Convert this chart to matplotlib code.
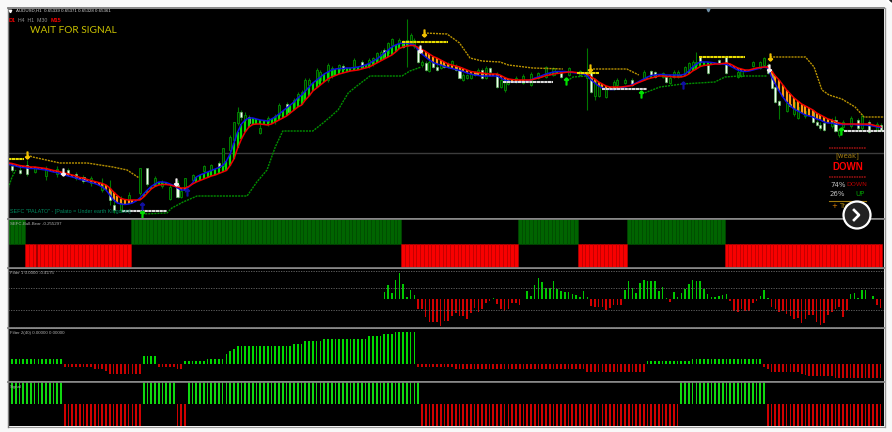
import numpy as np
import matplotlib
matplotlib.use('Agg')
import matplotlib.pyplot as plt
from matplotlib.patches import Circle

W, H = 892, 432
LEFT, RIGHT = 8, 884
BAR0, BAR_STEP = 8.3, 3.76

# Candles, prices are read as pixel rows of the main window
candle_bars = [1, 3, 5, 7, 10, 13, 16, 18, 20, 22,
               25, 27, 28, 30, 32, 35, 37, 39, 41, 43,
               45, 46, 47, 49, 52, 54, 56, 57, 59, 60,
               61, 62, 63, 64, 67, 69, 71, 72, 74, 76,
               77, 78, 79, 80, 82, 83, 85, 86, 88, 89,
               92, 94, 96, 97, 98, 99, 100, 101, 102, 104,
               105, 106, 107, 108, 109, 110, 111, 112, 113, 114,
               115, 116, 117, 118, 119, 120, 121, 122, 123, 124,
               125, 126, 127, 128, 130, 131, 132, 133, 135, 137,
               139, 141, 143, 145, 147, 149, 152, 154, 155, 156,
               157, 159, 161, 162, 164, 166, 169, 171, 172, 174,
               175, 176, 177, 178, 180, 181, 182, 183, 184, 186,
               189, 191, 194, 195, 198, 200, 201, 202, 203, 204,
               205, 207, 208, 209, 210, 212, 214, 215, 216, 217,
               219, 220, 221, 222, 224, 226, 227, 229, 231, 232]
candle_high = [163, 165, 160, 166, 166, 166, 168, 172, 175, 176,
               178, 180, 200, 196, 192, 168, 168, 176, 180, 185,
               180, 188, 178, 174, 165, 164, 161, 148, 135, 122,
               107, 110, 112, 115, 124, 116, 114, 103, 102, 98,
               92, 90, 78, 78, 68, 70, 63, 66, 64, 64,
               58, 60, 58, 57, 52, 50, 48, 42, 38, 38,
               40, 19, 33, 38, 46, 60, 61, 60, 62, 64,
               62, 63, 62, 60, 64, 68, 73, 74, 72, 71,
               68, 68, 66, 67, 72, 78, 78, 78, 76, 74,
               72, 72, 66, 67, 71, 67, 70, 48, 70, 78,
               84, 86, 80, 78, 78, 78, 70, 70, 71, 72,
               76, 76, 70, 70, 66, 62, 60, 52, 56, 64,
               59, 56, 70, 70, 61, 61, 57, 63, 72, 86,
               100, 102, 103, 100, 105, 110, 110, 120, 122, 120,
               118, 116, 128, 120, 116, 118, 114, 120, 122, 123]
candle_low = [172, 174, 176, 173, 180, 177, 176, 180, 183, 186,
              192, 205, 213, 212, 202, 195, 186, 186, 188, 200,
              198, 198, 192, 182, 174, 172, 170, 168, 152, 142,
              125, 120, 124, 127, 134, 126, 124, 117, 114, 110,
              102, 102, 92, 88, 85, 82, 82, 78, 72, 70,
              70, 68, 68, 66, 62, 60, 58, 54, 46, 44,
              48, 67, 45, 48, 63, 67, 71, 72, 68, 71,
              69, 68, 68, 66, 71, 79, 81, 79, 79, 76,
              75, 79, 79, 73, 88, 88, 92, 85, 83, 84,
              86, 79, 78, 76, 78, 76, 76, 110, 93, 100,
              97, 98, 90, 87, 84, 86, 80, 76, 78, 78,
              83, 84, 78, 78, 74, 71, 69, 66, 63, 74,
              64, 74, 78, 77, 67, 69, 66, 74, 89, 103,
              119, 112, 107, 116, 119, 118, 123, 126, 130, 131,
              128, 132, 137, 128, 128, 130, 130, 133, 131, 131]
candle_top = [166, 170, 165, 168, 168, 169, 170, 174, 177, 178,
              184, 191, 205, 203, 195, 168, 168, 178, 182, 187,
              185, 191, 178, 175, 166, 165, 163, 148, 137, 122,
              112, 112, 115, 117, 128, 118, 116, 105, 104, 100,
              94, 92, 80, 80, 70, 72, 65, 68, 65, 66,
              60, 62, 60, 58, 53, 52, 50, 43, 39, 40,
              42, 40, 35, 40, 47, 62, 63, 62, 63, 67,
              64, 65, 64, 61, 66, 70, 75, 75, 74, 72,
              70, 70, 68, 68, 75, 80, 80, 80, 78, 76,
              74, 73, 67, 68, 73, 68, 71, 72, 72, 80,
              85, 88, 82, 80, 80, 80, 72, 71, 72, 73,
              77, 78, 72, 72, 67, 63, 62, 62, 57, 65,
              60, 57, 72, 71, 62, 62, 58, 65, 73, 87,
              101, 103, 104, 102, 107, 111, 112, 122, 125, 123,
              120, 120, 130, 122, 118, 120, 116, 122, 124, 125]
candle_bottom = [170, 173, 174, 172, 176, 174, 174, 178, 181, 183,
                 190, 200, 210, 210, 200, 193, 184, 185, 186, 199,
                 197, 197, 190, 180, 171, 170, 167, 166, 150, 140,
                 123, 117, 120, 123, 133, 122, 120, 115, 112, 108,
                 100, 100, 90, 85, 83, 80, 80, 76, 70, 69,
                 68, 67, 66, 64, 60, 58, 57, 53, 45, 43,
                 47, 46, 43, 46, 62, 65, 70, 71, 67, 70,
                 68, 67, 67, 65, 70, 78, 80, 78, 78, 75,
                 73, 78, 78, 72, 87, 87, 90, 84, 82, 83,
                 85, 78, 77, 75, 77, 75, 75, 78, 92, 96,
                 96, 97, 88, 85, 83, 85, 78, 75, 77, 77,
                 82, 83, 77, 77, 73, 70, 68, 65, 62, 73,
                 63, 73, 77, 76, 66, 68, 65, 73, 88, 102,
                 105, 111, 106, 114, 118, 116, 122, 125, 128, 130,
                 126, 131, 135, 127, 126, 128, 128, 132, 130, 130]
candle_white = [1, 1, 1, 0, 0, 0, 1, 1, 1, 0,
                0, 1, 1, 0, 0, 0, 1, 0, 0, 0,
                1, 0, 0, 0, 0, 0, 1, 0, 0, 0,
                0, 1, 0, 1, 0, 0, 0, 0, 1, 0,
                0, 0, 0, 0, 0, 0, 0, 0, 0, 1,
                0, 1, 0, 0, 0, 0, 1, 0, 0, 0,
                1, 0, 0, 0, 1, 0, 1, 0, 1, 1,
                0, 1, 0, 0, 1, 1, 0, 0, 0, 1,
                0, 1, 0, 1, 1, 0, 0, 0, 0, 0,
                0, 0, 0, 0, 1, 0, 0, 0, 1, 0,
                0, 0, 0, 0, 0, 1, 0, 1, 1, 0,
                1, 0, 0, 0, 0, 0, 0, 0, 1, 1,
                1, 1, 0, 0, 0, 0, 0, 1, 1, 1,
                1, 0, 1, 0, 0, 0, 1, 1, 1, 1,
                0, 1, 0, 0, 0, 1, 0, 1, 0, 1]

# Moving average ribbon, one value per bar
ma_red = [163, 163.5, 164.5, 165.5, 166, 166.5, 167, 167, 167.5, 168,
          168.5, 169.5, 170.5, 171, 172, 173, 174, 175, 176, 177.5,
          178, 179.5, 180.5, 181.5, 182.5, 183.5, 185, 188, 192, 195.5,
          198.5, 199.5, 200, 200, 200, 200, 197, 193, 189, 186.5,
          185, 184.5, 184.5, 185, 186, 187, 188, 188, 186.5, 184,
          182, 180.5, 179, 177.5, 176, 175, 173.5, 172, 170.5, 165.5,
          159, 148, 139, 132, 127, 124.5, 124, 124, 124.5, 125,
          124, 122, 120, 118, 116, 113, 110, 107, 105, 100,
          96, 91, 88, 85, 82, 79, 77, 75.5, 74, 73,
          72, 71, 70.5, 70, 69, 68, 67, 65, 63, 61,
          59, 57, 55, 52, 48.5, 47, 46, 45.5, 45.5, 47.5,
          49.5, 51.5, 54, 56.5, 58, 60, 62, 64, 65, 66,
          67, 68.5, 70, 71.5, 72, 72.5, 73, 73.5, 74, 74,
          74, 75.5, 77.5, 79, 79.5, 80, 80, 80, 80, 80,
          79, 78, 77, 75.5, 75, 74, 73.5, 73, 72.5, 72,
          72, 72.5, 73, 73, 73.5, 77, 79, 82, 84, 86,
          87, 87, 87, 87, 86.5, 86, 85.5, 83.5, 82, 80.5,
          79, 78, 77, 76, 76, 76.5, 76.5, 77, 77, 77,
          76, 74, 71, 69, 66.5, 65.5, 65, 64.5, 64, 64,
          63.5, 63, 64, 66, 68, 69, 70, 70, 69, 68,
          67.5, 67, 67, 71, 76, 80, 85, 90, 94, 98,
          101, 104, 106, 108, 110, 113, 115, 117, 119, 120,
          122, 123, 124, 124, 124, 124, 124, 124, 124, 124,
          125, 126, 126.5]
ma_blue = [164.5, 165, 166, 167, 167.5, 168, 168.5, 168.5, 169, 169.5,
           170, 171, 172, 172.5, 174, 175, 176, 177, 178, 179.5,
           180, 181.5, 182.5, 183.5, 185, 187, 190, 195, 200, 203,
           204, 204.5, 204, 203, 201, 198, 194, 190, 186.5, 184,
           182, 182, 182.5, 184, 185.5, 188, 190, 190, 187, 183,
           177, 175, 173.5, 172, 170.5, 169, 167.5, 165.5, 161, 154,
           143, 132, 124, 120, 118, 118, 119, 120, 120.5, 121,
           119, 117, 114, 111, 108, 105, 102, 98, 95, 91,
           87, 83, 80, 77, 74, 72, 70, 69, 68.5, 68.5,
           68, 68, 67.5, 67, 66, 65, 63.5, 61, 59, 56,
           53, 50, 47, 45, 43.5, 43, 43, 44, 45, 50,
           54, 57, 60, 62.5, 64, 65, 66.5, 67.5, 68.5, 69.5,
           70.5, 71.5, 73, 74, 75, 75.5, 76, 76, 76, 76,
           76, 78, 80, 81, 82, 82, 82, 82, 81, 80,
           78, 77, 75.5, 74, 73, 72, 71.5, 71.5, 71.5, 72,
           72.5, 73, 73.5, 74, 76, 80, 83, 86, 88, 89,
           89.5, 89.5, 89, 88, 87, 86, 84.5, 83, 81, 79,
           77, 75.5, 75, 74.5, 74.5, 75, 75, 75, 75, 75,
           74, 71, 67, 64, 62, 62, 62, 62.5, 63, 64,
           64, 64.5, 66, 68, 70, 71, 71.5, 71, 70, 69,
           68, 67, 68, 77, 84, 91, 97, 102, 106, 109,
           111, 113, 115, 116, 117, 119, 120, 122, 123, 123,
           124, 124.5, 124.5, 124.5, 124.5, 124.5, 125, 125, 125, 125.5,
           126, 127, 127.5]

# Gold and green stop lines, broken into pieces
gold_bars = [[5, 6.5, 13.7, 21, 27.8, 31.6, 34.8],
             [110.5, 116.7, 120, 122.8, 126, 130.8, 133, 139.5, 147.5],
             [154.7, 164.5, 167.7],
             [202.6, 212, 214.3, 216.4, 218.3, 221.7, 225.2, 227.6, 232.9]]
gold_vals = [[155, 157, 163, 163, 167, 170, 178],
             [33, 34, 43, 58, 61, 62, 65, 68, 69],
             [69, 69, 75],
             [57, 57, 67, 90, 95, 99, 107, 117, 117]]
stop_bars = [[-0.3, 1, 2],
             [35.6, 42.2, 43.5, 46.5, 50.2, 63.5, 66.1, 68.8, 71, 73, 81, 83.7,
              85.6, 87.7, 90.4, 92.7, 96.2, 104.7, 106.8, 109.8],
             [148.6, 150.2, 153.9],
             [168.5, 173.3, 179.2, 187.9, 190.6, 194.3, 201.8]]
stop_vals = [[191, 177, 170],
             [214, 213, 208, 202, 196, 196, 182, 170, 147, 131, 131, 123,
              117, 110, 93, 86, 76, 76, 71, 67],
             [81, 77, 76],
             [94, 87, 84, 82, 77, 76, 76]]

# Support and resistance dashes
yellow_from = [0, 104.7, 151.3, 183.7]
yellow_to = [4.2, 116.9, 157, 196]
yellow_vals = [159, 42, 73, 57]
white_from = [30.2, 131.6, 157.9, 222.3]
white_to = [42.2, 144.9, 169.9, 232.9]
white_vals = [211, 82, 89, 131]

# Arrows
gold_arrow_bars = [5, 110.5, 154.7, 202.6]
gold_arrow_vals = [155, 33, 68, 57]
white_arrow_bars = [14.5, 44.7, 109.5, 202.3]
white_arrow_vals = [172, 182, 49, 68]
green_arrow_bars = [35.6, 148.4, 168.3, 221.5]
green_arrow_vals = [214, 81, 94, 131]
blue_arrow_bars = [35.6, 47.5, 179.4]
blue_arrow_vals = [206, 192, 85]

# Indicator panels
bull_runs = [5, 28, 72, 31, 16, 13, 26, 42]
bull_signs = [1, -1, 1, -1, 1, -1, 1, -1]
signal_runs = [15, 21, 9, 3, 62, 69, 23, 31]
signal_signs = [1, -1, 1, -1, 1, -1, 1, -1]

filter1 = [0] * 100 + [
    21, 40, 16, 56, 77, 43, 6, 26, 10, -32, -32, -54, -70, -70, -70, -82, -67, -67,
    -52, -44, -52, -52, -60, -42, -28, -39, -30, -12, -7, 2, -16, -30, -38, -32,
    -14, -12, -20, 0, 24, 8, 40, 62, 50, 32, 32, 52, 30, 22, 20, 20, 13, 12,
    5, 22, 5, -22, -24, -24, -26, -34, -28, -18, -18, -20, 26, 52, 32, 16, 48,
    56, 52, 52, 52, 24, 36, 1, -10, 20, 5, 18, 30, 44, 56, 52, 52, 28, 13, 5,
    5, 8, 10, 14, -8, -38, -40, -32, -38, -38, -14, -6, 8, 26, 2, -24, -30,
    -40, -38, -46, -52, -60, -58, -72, -60, -50, -50, -70, -80, -72, -48, -40,
    -30, -26, -55, -34, 14, 18, 1, 26, 26, 0, 8, -18, -28, -20]
filter1_levels = [83, 33, -35, -84]

filter2 = ([5.3] * 15 + [-2.7] * 8 + [-5] * 3 + [-7] + [-10] * 9 + [8] * 4
           + [-2.7] * 5 + [-5] * 2 + [3] * 6 + [5] * 5 + [10, 13, 15] + [18] * 15
           + [20] * 3 + [23] * 5 + [25] * 12 + [28] * 4 + [30] * 3 + [32] * 6
           + [-2.7] * 10 + [-5] * 35 + [-8] * 16 + [3] * 12 + [5] * 19
           + [-2.7, -5] + [-8] * 8 + [-10, -11] + [-12] * 7 + [-14] * 13)


def panel(top, bottom, ylim):
    ax = fig.add_axes([LEFT / W, 1 - bottom / H, (RIGHT - LEFT) / W, (bottom - top) / H])
    ax.set_facecolor('black')
    ax.set_xlim((LEFT - BAR0) / BAR_STEP, (RIGHT - BAR0) / BAR_STEP)
    ax.set_ylim(*ylim)
    ax.axis('off')
    ax.add_patch(plt.Rectangle((0, 0), 1, 1, transform=ax.transAxes, color='black', zorder=0))
    return ax


fig = plt.figure(figsize=(W / 100, H / 100), dpi=100, facecolor='#f8f8f8')

# Main window
ax = panel(9, 218, (218, 9))
ax.axhline(153, color='#3c3c3c', lw=1)

cb = np.array(candle_bars)
top = np.array(candle_top)
bot = np.array(candle_bottom)
white = np.array(candle_white) == 1
ax.vlines(cb, candle_high, candle_low, color='#007800', lw=0.8, zorder=2)
ax.bar(cb[~white], (bot - top)[~white], bottom=top[~white], width=0.55,
       color='#002800', edgecolor='#009000', lw=0.6, zorder=3)
ax.bar(cb[white], (bot - top)[white], bottom=top[white], width=0.55,
       color='#f0fff0', edgecolor='#70c070', lw=0.4, zorder=3)

for xs, ys in zip(gold_bars, gold_vals):
    ax.plot(xs, ys, color='#b89200', lw=1, ls=(0, (1.5, 0.7)), zorder=4)
for xs, ys in zip(stop_bars, stop_vals):
    ax.plot(xs, ys, color='#009000', lw=1, ls=(0, (1.5, 0.7)), zorder=4)

bars = np.arange(len(ma_red))
red = np.array(ma_red)
blue = np.array(ma_blue)
up = blue < red
ax.vlines(bars[up], blue[up], red[up], color='#00e000', lw=1.6, zorder=5)
ax.vlines(bars[~up], red[~up], blue[~up], color='#ff9a10', lw=1.6, zorder=5)
ax.plot(bars, blue, color='#1010e0', lw=1.1, zorder=6)
ax.plot(bars, red, color='#f00000', lw=1.1, zorder=7)

ax.hlines(yellow_vals, yellow_from, yellow_to, color='#e8dc00', lw=1.5,
          ls=(0, (1.6, 0.2)), zorder=8)
ax.hlines(white_vals, white_from, white_to, color='#dcdcdc', lw=1.5,
          ls=(0, (1.6, 0.2)), zorder=8)

ax.plot(gold_arrow_bars, gold_arrow_vals, ls='', marker='$\\downarrow$', ms=5, color='#f0c000', zorder=9)
ax.plot(white_arrow_bars, white_arrow_vals, ls='', marker='$\\downarrow$', ms=5, color='#f4f0f0', zorder=9)
ax.plot(green_arrow_bars, green_arrow_vals, ls='', marker='$\\uparrow$', ms=5, color='#00e000', zorder=9)
ax.plot(blue_arrow_bars, blue_arrow_vals, ls='', marker='$\\uparrow$', ms=5, color='#1010a0', zorder=9)

# Bull / Bear panel
ax1 = panel(219, 268, (-1, 1))
bull = np.repeat(bull_signs, bull_runs)
x1 = np.arange(len(bull))
ax1.bar(x1[bull > 0], 1, bottom=0, width=1, color='#006400', edgecolor='#004c00', lw=0.4)
ax1.bar(x1[bull < 0], -1, bottom=0, width=1, color='#f80000', edgecolor='#c00000', lw=0.4)

# Filter 1
ax2 = panel(269, 328, (-88, 89))
for level in filter1_levels:
    ax2.axhline(level, color='#6a6a6a', lw=0.6, ls=(0, (1.5, 1.5)))
f1 = np.array(filter1)
x2 = np.arange(len(f1))
ax2.bar(x2[f1 > 0], f1[f1 > 0], width=0.42, color='#00c800')
ax2.bar(x2[f1 < 0], f1[f1 < 0], width=0.42, color='#d00000')

# Filter 2
ax3 = panel(329, 381, (-17, 35))
f2 = np.array(filter2)
x3 = np.arange(len(f2))
ax3.bar(x3[f2 > 0], f2[f2 > 0], width=0.45, color='#00d800')
ax3.bar(x3[f2 < 0], f2[f2 < 0], width=0.45, color='#c80000')

# Signal
ax4 = panel(382, 426, (-1, 1))
sig = np.repeat(signal_signs, signal_runs)
x4 = np.arange(len(sig))
ax4.bar(x4[sig > 0], 1, width=0.45, color='#10d810')
ax4.bar(x4[sig < 0], -1, width=0.45, color='#d00000')

# Window chrome, labels and the overlay button, in picture pixels
ov = fig.add_axes([0, 0, 1, 1], zorder=20)
ov.set_xlim(0, W)
ov.set_ylim(H, 0)
ov.axis('off')
ov.patch.set_alpha(0)

for row in [8, 219, 268, 328, 382]:
    ov.plot([LEFT, RIGHT], [row, row], color='#7c7c7c', lw=1.3)
ov.plot([LEFT, RIGHT], [426.5, 426.5], color='#9a9a9a', lw=0.8)
ov.plot([7.5, 7.5], [8, 427], color='#7c7c7c', lw=1)
ov.plot([884.5, 884.5], [8, 427], color='#9a9a9a', lw=1)
ov.plot([708], [9.5], marker='v', ms=2, color='#7090a8')

small = 'Liberation Sans'
ov.plot([10], [11], marker='v', ms=1.8, color='white')
ov.text(16, 11, 'AUDUSD,H1  0.65339 0.65371 0.65328 0.65361', color='#d8d8d8', fontsize=3.2, va='center', family=small)
ov.text(9, 21, 'D1', color='#f00000', fontsize=4, fontweight='bold', va='center', family=small)
ov.text(18.5, 21, 'H4  H1  M30', color='#909090', fontsize=3.8, va='center', family=small)
ov.text(51, 21, 'M15', color='#f00000', fontsize=4, fontweight='bold', va='center', family=small)
ov.text(30, 30.5, 'WAIT FOR SIGNAL', color='#c8c000', fontsize=7.3, va='center', family='Lato')
ov.text(10, 211, 'SEFC "PALATO" - [Palato = Under earth Kingdom]', color='#008a60', fontsize=3.9, va='center', family=small)
ov.text(10, 224, 'SEFC-Bull-Bear -0.255297', color='#b0b0b0', fontsize=3.2, va='center', family=small)
ov.text(10, 272.5, 'Filter 1 0.0000 -0.4175', color='#b0b0b0', fontsize=3.2, va='center', family=small)
ov.text(10, 333, 'Filter 2(40) 0.00000 0.00000', color='#b0b0b0', fontsize=3.2, va='center', family=small)
ov.text(10, 387, 'Signal', color='#b0b0b0', fontsize=3.2, va='center', family=small)

ov.plot([829, 866], [148, 148], color='#901010', lw=1.2, ls=(0, (1, 0.5)))
ov.text(847.5, 156, '[weak]', color='#a07c10', fontsize=5, ha='center', va='center')
ov.text(847.5, 167, 'DOWN', color='#ff0000', fontsize=7, fontweight='bold', ha='center', va='center', family=small)
ov.plot([829, 866], [177, 177], color='#901010', lw=1.2, ls=(0, (1, 0.5)))
ov.text(830, 185, '74%', color='#c0c0c0', fontsize=5, va='center')
ov.text(846, 185, 'DOWN', color='#b00000', fontsize=4.6, va='center')
ov.text(830, 194, '26%', color='#c0c0c0', fontsize=5, va='center')
ov.text(865, 194, 'UP', color='#00a000', fontsize=5, ha='right', va='center')
ov.plot([829, 866], [201, 201], color='#a07c10', lw=0.8)
ov.text(831, 206.5, '+', color='#e08000', fontsize=5, va='center')
ov.text(839, 206.5, 'Trend', color='#a07c10', fontsize=5, va='center')

ov.add_patch(Circle((857, 215), 13.5, facecolor='#222222', edgecolor='white', lw=1.6, zorder=10))
ov.plot([854, 859, 854], [210, 215, 220], color='white', lw=1.9, zorder=11)
ov.add_patch(Circle((899, -8), 14, facecolor='#222222', edgecolor='white', lw=1.6, zorder=10))

fig.savefig('out.png', dpi=100, facecolor=fig.get_facecolor())
